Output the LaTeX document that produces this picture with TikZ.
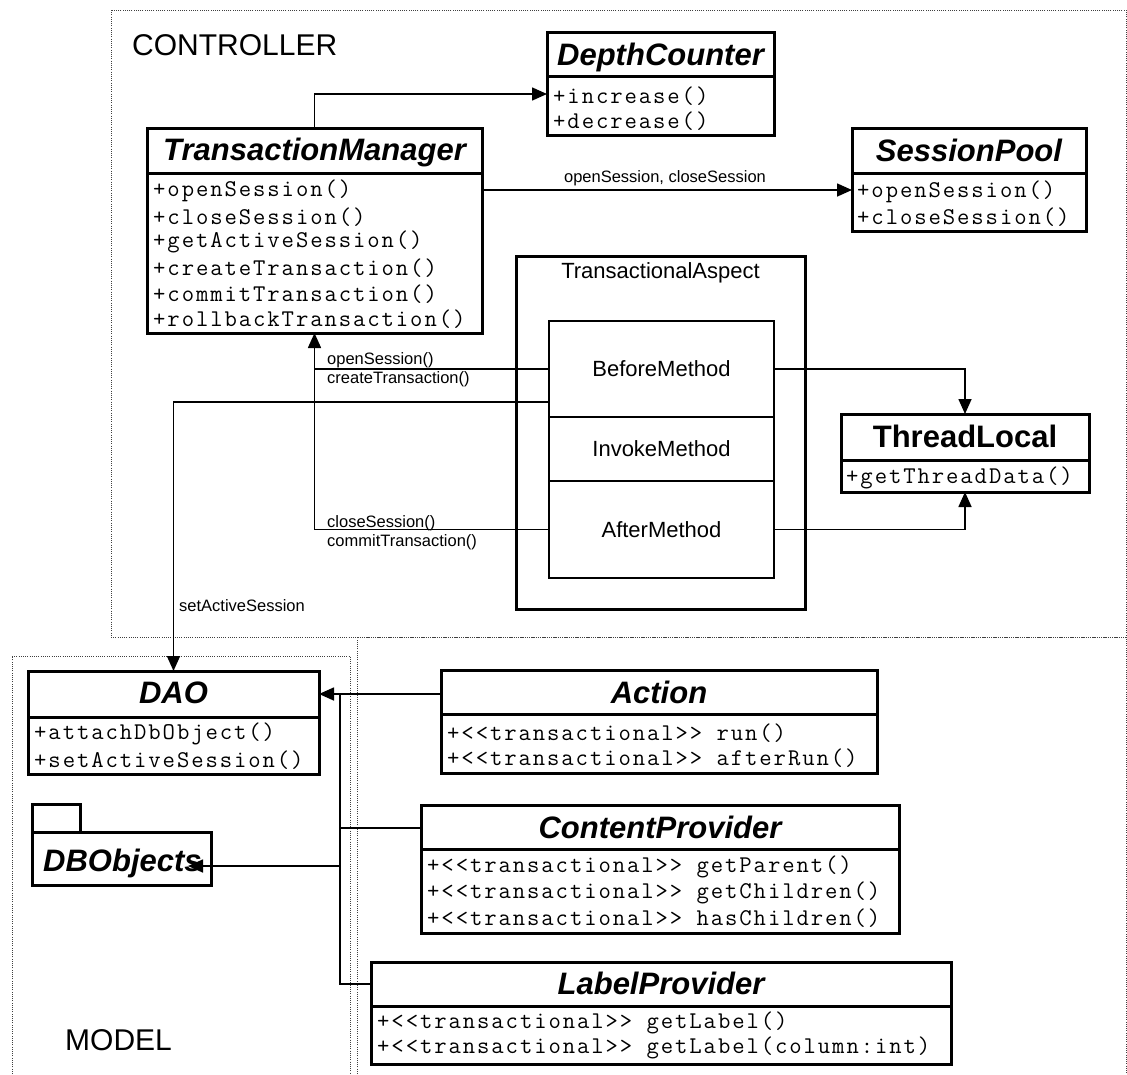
\documentclass[tikz,border=0pt]{standalone}
\usepackage{fontspec}
\setmainfont{Liberation Sans}
\newfontfamily\methfont[LetterSpace=8]{Latin Modern Mono}
\usetikzlibrary{arrows.meta}
\tikzset{
  cls/.style={draw, line width=3pt, inner sep=0pt, outer sep=0pt, anchor=north west},
  hdr/.style={line width=3pt},
  ctitle/.style={font=\fontsize{31}{31}\selectfont\bfseries\itshape, inner sep=0pt, anchor=base},
  meth/.style={font=\methfont\fontsize{24}{24}\selectfont, anchor=west, inner sep=0pt},
  conn/.style={line width=1.6pt},
  arr/.style={conn, -{Triangle[length=15pt,width=13pt]}},
  lbl/.style={font=\fontsize{16.5}{17}\selectfont, inner sep=0pt, anchor=base west},
  pkg/.style={draw=black!75, line width=1pt, dash pattern=on 1pt off 1.2pt},
  seg/.style={draw, line width=1.6pt, inner sep=0pt, outer sep=0pt, minimum width=225pt,
              anchor=north west, font=\fontsize{22}{22}\selectfont},
  pkgname/.style={font=\fontsize{30}{30}\selectfont, inner sep=0pt, anchor=base west},
}
\begin{document}
\begin{tikzpicture}[x=1pt,y=-1pt]
\useasboundingbox (0,0) rectangle (1127,1074);

% ---------- packages (dotted) ----------
\draw[pkg] (111,10) rectangle (1126,637);
\draw[pkg] (357,1074) -- (357,637) -- (1126,637) -- (1126,1074);
\draw[pkg] (12,1074) -- (12,656) -- (350,656) -- (350,1074);
\node[pkgname] (ctrl) at (132,55) {CONTROLLER};
\node[pkgname] (model) at (65,1050) {MODEL};

% ---------- TransactionManager ----------
\node[cls, minimum width=335pt, minimum height=205pt] (tm) at (147,128) {};
\draw[hdr] (147,173) -- (482,173);
\node[ctitle] (tmt) at (314.5,160) {TransactionManager};
\node[meth] (tm1) at (153,191) {+openSession()};
\node[meth] (tm2) at (153,217) {+closeSession()};
\node[meth] (tm3) at (153,242) {+getActiveSession()};
\node[meth] (tm4) at (153,268) {+createTransaction()};
\node[meth] (tm5) at (153,294) {+commitTransaction()};
\node[meth] (tm6) at (153,319) {+rollbackTransaction()};

% ---------- DepthCounter ----------
\node[cls, minimum width=227pt, minimum height=103pt] (dc) at (547,32) {};
\draw[hdr] (547,76) -- (774,76);
\node[ctitle] (dct) at (660.5,65) {DepthCounter};
\node[meth] (dc1) at (553,96) {+increase()};
\node[meth] (dc2) at (553,121) {+decrease()};

% ---------- SessionPool ----------
\node[cls, minimum width=234pt, minimum height=103pt] (sp) at (852,128) {};
\draw[hdr] (852,173) -- (1086,173);
\node[ctitle] (spt) at (969,161) {SessionPool};
\node[meth] (sp1) at (857,192) {+openSession()};
\node[meth] (sp2) at (857,217) {+closeSession()};

% ---------- ThreadLocal ----------
\node[cls, minimum width=248pt, minimum height=78pt] (tl) at (841,414) {};
\draw[hdr] (841,460) -- (1089,460);
\node[font=\fontsize{31}{31}\selectfont\bfseries, inner sep=0pt, anchor=base] (tlt) at (965,447) {ThreadLocal};
\node[meth] (tl1) at (846,478) {+getThreadData()};

% ---------- TransactionalAspect ----------
\node[cls, minimum width=289pt, minimum height=353pt] (ta) at (516,256) {};
\node[font=\fontsize{22}{22}\selectfont, inner sep=0pt, anchor=base] (tat) at (660.5,278) {TransactionalAspect};
\node[seg, minimum height=96pt] (before) at (549,321) {BeforeMethod};
\node[seg, minimum height=64pt] (invoke) at (549,417) {InvokeMethod};
\node[seg, minimum height=97pt] (after) at (549,481) {AfterMethod};

% ---------- DAO ----------
\node[cls, minimum width=291pt, minimum height=103pt] (dao) at (28,671) {};
\draw[hdr] (28,717) -- (319,717);
\node[ctitle] (daot) at (173.5,703) {DAO};
\node[meth] (dao1) at (34,734) {+attachDbObject()};
\node[meth] (dao2) at (34,760) {+setActiveSession()};

% ---------- DBObjects package ----------
\node[cls, minimum width=48pt, minimum height=28pt] (dbtab) at (32,804) {};
\node[cls, minimum width=179pt, minimum height=53pt] (dbo) at (32,832) {};
\node[ctitle, anchor=base west] (dbot) at (43,871) {DBObjects};

% ---------- Action ----------
\node[cls, minimum width=436pt, minimum height=103pt] (act) at (441,670) {};
\draw[hdr] (441,714) -- (877,714);
\node[ctitle] (actt) at (659,703) {Action};
\node[meth] (act1) at (447,733) {+<{}<transactional>{}> run()};
\node[meth] (act2) at (447,758) {+<{}<transactional>{}> afterRun()};

% ---------- ContentProvider ----------
\node[cls, minimum width=478pt, minimum height=128pt] (cp) at (421,805) {};
\draw[hdr] (421,849) -- (899,849);
\node[ctitle] (cpt) at (660,838) {ContentProvider};
\node[meth] (cp1) at (427,867) {+<{}<transactional>{}> getParent()};
\node[meth] (cp2) at (427,893) {+<{}<transactional>{}> getChildren()};
\node[meth] (cp3) at (427,918) {+<{}<transactional>{}> hasChildren()};

% ---------- LabelProvider ----------
\node[cls, minimum width=580pt, minimum height=102pt] (lp) at (371,962) {};
\draw[hdr] (371,1006) -- (951,1006);
\node[ctitle] (lpt) at (661,994.5) {LabelProvider};
\node[meth] (lp1) at (377,1023) {+<{}<transactional>{}> getLabel()};
\node[meth] (lp2) at (377,1048) {+<{}<transactional>{}> getLabel(column:int)};

% ---------- connectors (controller) ----------
\draw[arr] (tm.north) |- (dc.west |- 0,94);
\draw[arr] (tm.east |- 0,190) -- (sp.west |- 0,190);
\node[font=\fontsize{16.5}{17}\selectfont, inner sep=0pt, anchor=base] (lsp) at (665,182) {openSession, closeSession};

\draw[arr] (before.east) -| (tl.north);
\draw[arr] (after.east) -| (tl.south);

\draw[conn] (before.west) -- (tm.south |- before.west);
\draw[arr] (after.west) -| (tm.south);
\node[lbl] (l1) at (327,364) {openSession()};
\node[lbl] (l2) at (327,383) {createTransaction()};
\node[lbl] (l3) at (327,527) {closeSession()};
\node[lbl] (l4) at (327,546) {commitTransaction()};

\draw[arr] (before.west |- 0,402) -| (dao.north);
\node[lbl] (l5) at (179,611) {setActiveSession};

% ---------- connectors (model) ----------
\coordinate (bt) at (340,694);
\coordinate (bb) at (340,984);
\coordinate (dbtip) at (188,866);
\draw[arr] (act.west |- bt) -- (dao.east |- bt);
\draw[conn] (bt) -- (bb) -- (lp.west |- bb);
\draw[conn] (cp.west |- 0,828) -- (bt |- 0,828);
\draw[arr] (bt |- dbtip) -- (dbtip);
\end{tikzpicture}
\end{document}
